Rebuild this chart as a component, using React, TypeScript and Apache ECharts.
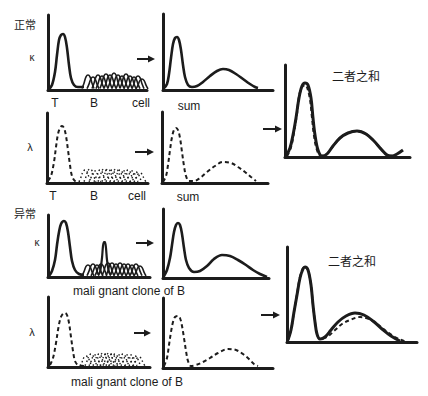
import React, { useEffect, useRef } from "react";
import * as echarts from "echarts";

// ---- data (offsets from each panel's origin: [x, height]) ----
const kappaNormalT = [[1,1],[4,5],[7,18],[9,35],[11,50],[13,55],[15,56],[17,53],[19,42],[21,25],[23,12],[26,5],[30,3],[36,3]];
const kappaNormalBCenters = [40,45,50,54,58,62,66,70,74,78,82,86,90,94];
const kappaNormalBHeights = [15,13,15,14,16,15,17,15,14,16,14,13,14,11];
const kappaNormalSum = [[1,2],[4,6],[6,16],[8,32],[10,46],[12,52],[14,53],[16,50],[18,40],[20,25],[22,13],[25,5],[29,3],[34,4],[40,8],[47,14],[54,19],[60,21],[66,20],[73,16],[80,11],[87,6],[92,3],[95,2]];

const lambdaNormalT = [[1,2],[4,7],[7,21],[9,36],[11,49],[13,55],[15,57],[17,55],[19,47],[21,33],[23,18],[25,7],[28,2],[33,1]];
const lambdaNormalBCenters = [38,43,48,53,57,61,65,69,73,77,81,85,89,93];
const lambdaNormalBHeights = [13,14,12,13,14,14,13,14,13,12,13,12,11,10];
const lambdaNormalSum = [[1,1],[4,7],[6,18],[8,33],[10,46],[12,53],[14,55],[16,53],[18,45],[20,31],[22,17],[24,7],[27,2],[32,2],[38,5],[45,11],[53,17],[61,21],[69,20],[76,16],[83,11],[89,6],[94,2]];

const normalTotalKappa = [[1,1],[5,9],[8,22],[11,39],[14,59],[17,71],[20,74],[23,72],[26,59],[28,39],[30,22],[33,7],[37,1],[42,3],[48,11],[55,19],[63,24],[72,26],[81,23],[89,16],[96,8],[102,2],[107,1],[112,3],[118,7]];
const normalTotalLambda = [[2,1],[6,10],[9,25],[12,44],[14,60],[17,70],[20,72],[22,70],[25,58],[27,40],[29,22],[32,7],[36,1],[42,3],[48,11],[55,19],[63,24],[72,26],[81,23],[89,16],[96,8],[102,2],[107,1]];

const kappaAbnormalT = [[1,1],[4,6],[7,17],[9,32],[11,45],[13,53],[16,56],[18,54],[20,45],[22,30],[24,16],[27,7],[31,3],[36,2]];
const kappaAbnormalBCenters = [40,45,49,53,60,64,68,72,76,80,84,88,92];
const kappaAbnormalBHeights = [12,13,12,13,14,14,13,14,13,13,12,13,11];
const kappaAbnormalClone = [[50,2],[52,5],[54,19],[55,31],[56,35],[57,35],[58,29],[59,17],[61,5],[63,2]];
const kappaAbnormalSum = [[1,2],[4,8],[7,20],[9,33],[11,46],[13,53],[15,55],[17,53],[19,44],[21,30],[23,18],[26,10],[31,6],[37,7],[44,12],[51,19],[59,23],[67,22],[75,18],[83,13],[90,8],[97,4],[104,1]];

const lambdaAbnormalT = [[2,2],[5,9],[8,24],[10,37],[12,47],[14,52],[17,54],[19,52],[21,44],[23,30],[25,16],[27,6],[30,2],[36,1]];
const lambdaAbnormalBCenters = [38,43,47,51,55,58,61,64,67,71,75,79,83,87,91];
const lambdaAbnormalBHeights = [11,13,12,13,14,13,14,13,13,12,13,12,12,11,10];
const lambdaAbnormalSum = [[1,2],[4,10],[6,23],[8,36],[10,46],[12,51],[15,52],[17,50],[19,42],[21,30],[23,17],[25,7],[28,2],[33,3],[40,6],[47,10],[55,15],[65,19],[73,18],[80,14],[86,9],[91,4],[95,2]];

const abnormalTotalKappa = [[1,2],[4,12],[7,30],[10,47],[13,64],[16,73],[18,75],[21,72],[24,57],[26,37],[28,20],[30,8],[33,3],[38,5],[44,12],[51,20],[59,26],[68,29],[77,27],[86,21],[95,13],[104,6],[113,1]];
const abnormalTotalLambda = [[1,2],[4,12],[7,30],[10,48],[13,65],[16,74],[18,75],[21,72],[24,57],[26,37],[28,20],[30,8],[33,3],[40,5],[47,11],[55,18],[63,22],[73,25],[82,23],[90,18],[99,11],[108,5],[117,1],[121,0]];

// shape of one single-cell bump (offset, fraction of height)
const bumpProfile = [[-6,0.1],[-4,0.45],[-2,0.88],[0,1],[2,0.88],[4,0.45],[6,0.1]];

const INK = "#1c1c1c";
const panels = [
  { l: 48, t: 15, w: 99, h: 75 },
  { l: 163, t: 14, w: 110, h: 76 },
  { l: 47, t: 113, w: 101, h: 70 },
  { l: 162, t: 112, w: 106, h: 71 },
  { l: 285, t: 65, w: 125, h: 92 },
  { l: 48, t: 215, w: 102, h: 62 },
  { l: 163, t: 209, w: 106, h: 69 },
  { l: 48, t: 297, w: 102, h: 70 },
  { l: 163, t: 298, w: 110, h: 70 },
  { l: 287, t: 247, w: 130, h: 95 },
];

const solid = { color: INK, width: 2.6, type: "solid" as const };
const dashed = { color: INK, width: 2, type: [4, 3] as any };
const dotted = { color: INK, width: 1.4, type: [1.5, 2.5] as any };

function lineSeries(idx: number, data: number[][], style: any, smooth = 0.35) {
  return {
    type: "line",
    xAxisIndex: idx,
    yAxisIndex: idx,
    data,
    smooth,
    symbol: "none",
    clip: false,
    lineStyle: style,
    silent: true,
  };
}

function bumps(idx: number, centers: number[], heights: number[], style: any) {
  return centers.map((c, i) =>
    lineSeries(
      idx,
      bumpProfile.map(([o, f]) => [c + o, heights[i] * f]),
      style,
      0.4
    )
  );
}

function arrow(x1: number, x2: number, y: number) {
  return [
    { type: "line", shape: { x1, y1: y, x2: x2 - 5, y2: y }, style: { stroke: INK, lineWidth: 2 } },
    { type: "polygon", shape: { points: [[x2, y], [x2 - 7, y - 3.5], [x2 - 7, y + 3.5]] }, style: { fill: INK } },
  ];
}

function txt(text: string, x: number, y: number, size = 12, cjk = false) {
  return {
    type: "text",
    x,
    y,
    style: {
      text,
      fill: INK,
      font: `${size}px ${cjk ? '"Noto Sans CJK SC"' : '"Liberation Sans", Arial'}`,
      textAlign: "center",
      textVerticalAlign: "middle",
    },
  };
}

export default function App() {
  const ref = useRef<HTMLDivElement>(null);
  useEffect(() => {
    if (!ref.current) return;
    const chart = echarts.init(ref.current, null, { renderer: "svg" });
    const axisCommon = {
      type: "value",
      axisLine: { show: true, onZero: false, lineStyle: { color: INK, width: 3 } },
      axisTick: { show: false },
      axisLabel: { show: false },
      splitLine: { show: false },
    };
    const series: any[] = [
      lineSeries(0, kappaNormalT, solid),
      ...bumps(0, kappaNormalBCenters, kappaNormalBHeights, { ...solid, width: 1.6 }),
      lineSeries(1, kappaNormalSum, solid),
      lineSeries(2, lambdaNormalT, dashed),
      ...bumps(2, lambdaNormalBCenters, lambdaNormalBHeights, dotted),
      lineSeries(3, lambdaNormalSum, dashed),
      lineSeries(4, normalTotalKappa, { ...solid, width: 3 }),
      lineSeries(4, normalTotalLambda, { ...dashed, width: 2.2 }),
      lineSeries(5, kappaAbnormalT, solid),
      ...bumps(5, kappaAbnormalBCenters, kappaAbnormalBHeights, { ...solid, width: 1.6 }),
      lineSeries(5, kappaAbnormalClone, { ...solid, width: 2.2 }, 0.3),
      lineSeries(6, kappaAbnormalSum, solid),
      lineSeries(7, lambdaAbnormalT, dashed),
      ...bumps(7, lambdaAbnormalBCenters, lambdaAbnormalBHeights, dotted),
      lineSeries(8, lambdaAbnormalSum, dashed),
      lineSeries(9, abnormalTotalKappa, { ...solid, width: 3 }),
      lineSeries(9, abnormalTotalLambda, dashed),
    ];
    chart.setOption({
      animation: false,
      backgroundColor: "#ffffff",
      grid: panels.map((p) => ({ left: p.l, top: p.t, width: p.w, height: p.h, containLabel: false })),
      xAxis: panels.map((p, i) => ({ ...axisCommon, gridIndex: i, min: 0, max: p.w })),
      yAxis: panels.map((p, i) => ({ ...axisCommon, gridIndex: i, min: 0, max: p.h })),
      series,
      graphic: [
        txt("正常", 25, 24, 11, true),
        txt("κ", 32, 57, 10),
        txt("T", 55, 103),
        txt("B", 94, 103),
        txt("cell", 141, 103),
        txt("sum", 189, 106),
        txt("λ", 30, 147, 11),
        txt("T", 53, 196),
        txt("B", 94, 196),
        txt("cell", 137, 196),
        txt("sum", 188, 197),
        txt("二者之和", 356, 75, 12, true),
        txt("异常", 25, 213, 11, true),
        txt("κ", 37, 242, 10),
        txt("mali gnant clone of B", 129, 291),
        txt("λ", 32, 332, 11),
        txt("mali gnant clone of B", 127, 382),
        txt("二者之和", 352, 260, 12, true),
        ...arrow(137, 155, 59),
        ...arrow(135, 154, 152),
        ...arrow(263, 282, 129),
        ...arrow(136, 154, 243),
        ...arrow(134, 151, 333),
        ...arrow(261, 280, 315),
      ],
    });
    return () => chart.dispose();
  }, []);
  return <div ref={ref} style={{ position: "absolute", left: 0, top: 0, width: 428, height: 396 }} />;
}
